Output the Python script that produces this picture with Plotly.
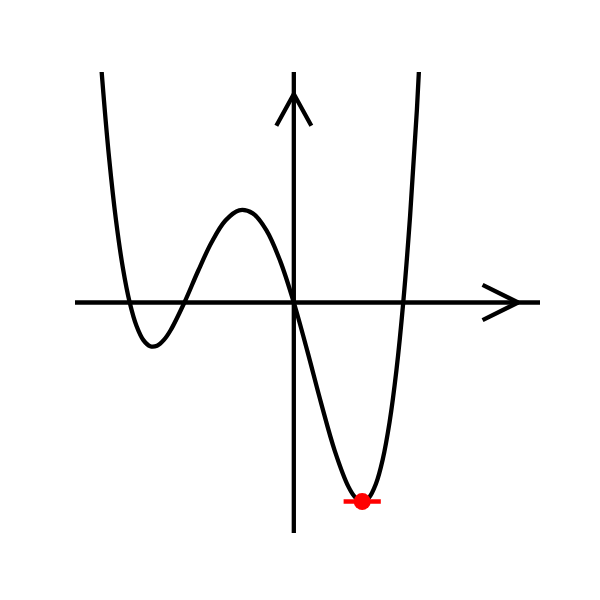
import plotly.graph_objects as go

# Curve samples (data units)
curve_x = [-3.6, -3.5, -3.375, -3.25, -3.125, -3.0, -2.875, -2.75, -2.625, -2.5, -2.375, -2.25,
           -2.0, -1.75, -1.5, -1.25, -1.0, -0.75, -0.5, -0.25, 0.0, 0.25, 0.5, 0.75, 1.0,
           1.125, 1.25, 1.375, 1.5, 1.625, 1.75, 1.875, 2.0, 2.125, 2.25, 2.4]
curve_y = [5.418, 4.043, 2.619, 1.493, 0.631, 0.0, -0.429, -0.686, -0.797, -0.7875, -0.682, -0.501,
           0.0, 0.574, 1.1025, 1.493, 1.68, 1.624, 1.3125, 0.758, 0.0, -0.896, -1.8375, -2.707, -3.36,
           -3.553, -3.626, -3.553, -3.307, -2.861, -2.182, -1.240, 0.0, 1.572, 3.514, 6.387]

# Axis extents
x_range = [-4.0, 4.5]
y_range = [-4.2, 4.2]

# Arrowheads
x_arrow_x = [3.45, 4.1, 3.45]
x_arrow_y = [0.32, 0.0, -0.32]
y_arrow_x = [-0.32, 0.0, 0.32]
y_arrow_y = [3.22, 3.8, 3.22]

# Highlighted minimum and tangent
min_x = [1.25]
min_y = [-3.626]
tangent_x = [0.91, 1.59]
tangent_y = [-3.626, -3.626]

LW = 4.3
fig = go.Figure()
fig.add_trace(go.Scatter(x=x_range, y=[0, 0], mode="lines", line=dict(color="black", width=LW)))
fig.add_trace(go.Scatter(x=[0, 0], y=y_range, mode="lines", line=dict(color="black", width=LW)))
fig.add_trace(go.Scatter(x=x_arrow_x, y=x_arrow_y, mode="lines", line=dict(color="black", width=LW)))
fig.add_trace(go.Scatter(x=y_arrow_x, y=y_arrow_y, mode="lines", line=dict(color="black", width=LW)))
fig.add_trace(go.Scatter(x=curve_x, y=curve_y, mode="lines",
                         line=dict(color="black", width=LW, shape="spline", smoothing=1)))
fig.add_trace(go.Scatter(x=tangent_x, y=tangent_y, mode="lines", line=dict(color="red", width=LW)))
fig.add_trace(go.Scatter(x=min_x, y=min_y, mode="markers",
                         marker=dict(color="red", size=17, line=dict(width=0))))

fig.update_layout(
    width=600, height=600,
    margin=dict(l=67, r=68, t=64, b=75),
    paper_bgcolor="white", plot_bgcolor="white",
    showlegend=False,
    xaxis=dict(range=x_range, visible=False, fixedrange=True),
    yaxis=dict(range=y_range, visible=False, fixedrange=True),
)
fig.write_html("out.html")
